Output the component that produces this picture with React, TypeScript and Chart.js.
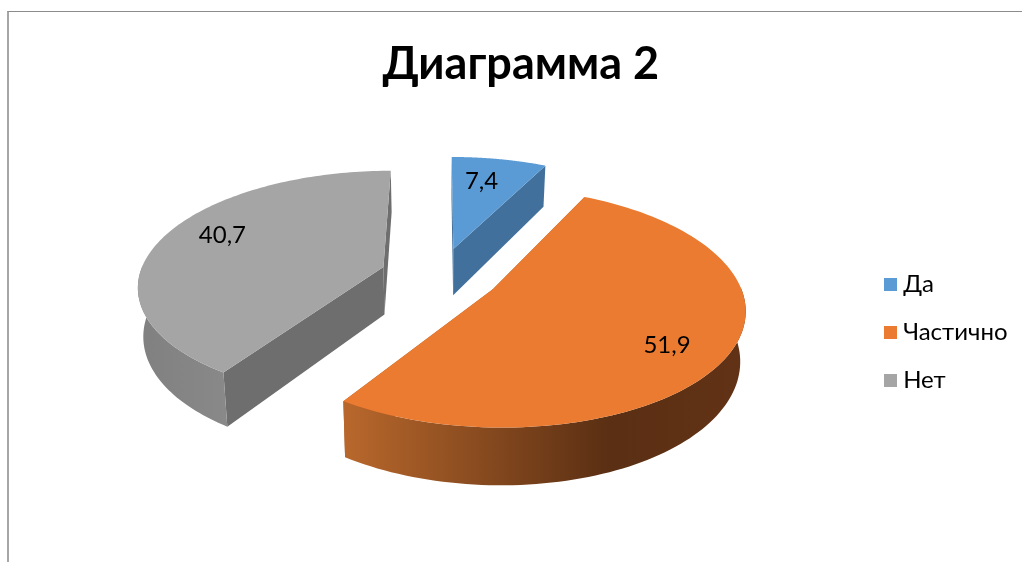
import React, { useEffect, useRef } from "react";
import { Chart, registerables } from "chart.js";

Chart.register(...registerables);

const TITLE = "Диаграмма 2";
const categories = ["Да", "Частично", "Нет"];
const values = [7.4, 51.9, 40.7];
const topColors = ["#5b9bd5", "#ea7b30", "#a5a5a5"];
const faceColors = ["#41709c", "#ad5a22", "#6e6e6e"];
const wallStart = ["#41709c", "#b9682c", "#808080"];
const wallEnd = ["#2f5273", "#5a2f13", "#999999"];
const FONT = "Lato, 'Noto Sans', 'Open Sans', sans-serif";

// Projection of the chart's flat pie onto a tilted plane
const PLANE_R = 244;
const PLANE_B = 113;
const PERSPECTIVE = 0.15;
const DEPTH = 48;
const TAPER = 0.018;
const SHIFT_X = -5;
const SHIFT_Y = -57;
const LABEL_RADIUS = [0.72, 0.78, 0.77];
const LABEL_TILT_DEG = [-2.3, 5, 6.5];

const swatch = (color: string) => {
  const c = document.createElement("canvas");
  c.width = 13;
  c.height = 13;
  const g = c.getContext("2d")!;
  g.fillStyle = color;
  g.fillRect(0, 0, 13, 13);
  return c;
};

const pie3d = {
  id: "pie3d",
  beforeDatasetsDraw(chart: any) {
    const ctx = chart.ctx;
    const arcs = chart.getDatasetMeta(0).data;
    const project = (arc: any, a: number, r: number, d: number) => {
      const mid = (arc.startAngle + arc.endAngle) / 2;
      const off = arc.options.offset;
      const S = PLANE_R / arc.outerRadius;
      const u = (off * Math.cos(mid) + r * Math.cos(a)) * S;
      const v = -(off * Math.sin(mid) + r * Math.sin(a)) * S;
      const s = 1 / (1 + (PERSPECTIVE * v) / PLANE_R);
      return {
        x: arc.x + SHIFT_X + u * s * (1 - TAPER * d),
        y: arc.y + SHIFT_Y - v * (PLANE_B / PLANE_R) * s + DEPTH * s * d,
      };
    };
    const poly = (pts: { x: number; y: number }[], fill: any) => {
      ctx.beginPath();
      pts.forEach((p, i) => (i ? ctx.lineTo(p.x, p.y) : ctx.moveTo(p.x, p.y)));
      ctx.closePath();
      ctx.fillStyle = fill;
      ctx.fill();
    };
    ctx.save();
    [2, 0, 1].forEach((i) => {
      const arc = arcs[i];
      const R = arc.outerRadius;
      const n = 120;
      const angles: number[] = [];
      for (let k = 0; k <= n; k++) {
        angles.push(arc.startAngle + ((arc.endAngle - arc.startAngle) * k) / n);
      }
      const top = angles.map((a) => project(arc, a, R, 0));
      const apexTop = project(arc, 0, 0, 0);
      const apexBottom = project(arc, 0, 0, 1);
      // radial walls
      poly([apexTop, top[0], project(arc, angles[0], R, 1), apexBottom], faceColors[i]);
      poly([apexTop, top[n], project(arc, angles[n], R, 1), apexBottom], faceColors[i]);
      // outer wall: only the part that faces the viewer
      const front = angles.filter((a) => Math.sin(a) > -0.02);
      if (front.length > 1) {
        const upper = front.map((a) => project(arc, a, R, 0));
        const lower = front.map((a) => project(arc, a, R, 1));
        const xs = top.map((p) => p.x);
        const lo = Math.min(...upper.map((p) => p.x));
        const grad = ctx.createLinearGradient(lo, 0, Math.max(...xs), 0);
        grad.addColorStop(0, wallStart[i]);
        grad.addColorStop(i === 1 ? 0.66 : 1, wallEnd[i]);
        if (i === 1) grad.addColorStop(1, "#623216");
        poly([...upper, ...lower.slice().reverse()], grad);
      }
      // top face
      poly([apexTop, ...top], topColors[i]);
    });
    // value labels
    ctx.fillStyle = "#000000";
    ctx.font = `24px ${FONT}`;
    ctx.textAlign = "center";
    ctx.textBaseline = "middle";
    arcs.forEach((arc: any, i: number) => {
      const mid = (arc.startAngle + arc.endAngle) / 2 + (LABEL_TILT_DEG[i] * Math.PI) / 180;
      const p = project(arc, mid, arc.outerRadius * LABEL_RADIUS[i], 0);
      ctx.fillText(String(values[i]).replace(".", ","), p.x, p.y);
    });
    ctx.restore();
    return false;
  },
};

export default function App() {
  const ref = useRef<HTMLCanvasElement>(null);
  useEffect(() => {
    document.body.style.margin = "0";
    const chart = new Chart(ref.current!, {
      type: "pie",
      data: {
        labels: categories,
        datasets: [
          {
            data: values,
            backgroundColor: topColors,
            borderWidth: 0,
            offset: 49,
            radius: 200,
          },
        ],
      },
      options: {
        responsive: false,
        animation: false,
        layout: { padding: { left: 24, right: 4.5 } },
        plugins: {
          title: {
            display: true,
            text: TITLE,
            color: "#000000",
            font: { family: FONT, size: 45, weight: "bold" },
            padding: { top: 37, bottom: 11 },
          },
          legend: {
            position: "right",
            fullSize: false,
            labels: {
              usePointStyle: true,
              pointStyleWidth: 1,
              boxHeight: 13,
              padding: 24,
              color: "#000000",
              font: { family: FONT, size: 24 },
              generateLabels: (chart: any) =>
                (Chart as any).overrides.pie.plugins.legend.labels
                  .generateLabels(chart)
                  .map((item: any, i: number) => ({ ...item, pointStyle: swatch(topColors[i]) })),
            },
          },
          tooltip: { enabled: false },
        },
      },
      plugins: [pie3d],
    } as any);
    return () => chart.destroy();
  }, []);
  return (
    <div style={{ position: "relative", width: 1022, height: 562, overflow: "hidden", background: "#fff" }}>
      <canvas ref={ref} width={1022} height={562} style={{ display: "block" }} />
      <div
        style={{
          position: "absolute",
          left: 7,
          top: 11,
          right: 0,
          bottom: 0,
          borderLeft: "2px solid #a6a6a6",
          borderTop: "1px solid #8c8c8c",
          pointerEvents: "none",
        }}
      />
    </div>
  );
}
